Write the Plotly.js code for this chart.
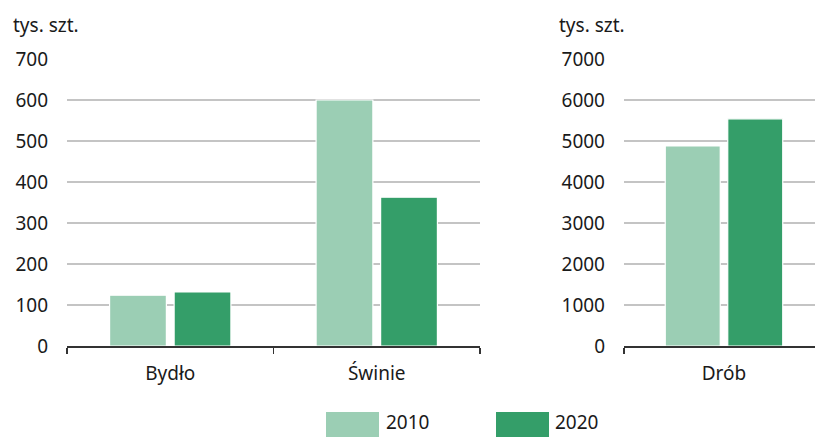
<!DOCTYPE html>
<html>
<head>
<meta charset="utf-8">
<script src="https://cdn.plot.ly/plotly-3.0.1.min.js"></script>
<style>html,body{margin:0;padding:0;background:#fff;}#chart{width:815px;height:437px;}</style>
</head>
<body>
<div id="chart"></div>
<script>
var categoriesLeft = ['Bydło', 'Świnie'];
var values2010Left = [124, 600];
var values2020Left = [132, 363];
var categoriesRight = ['Drób'];
var values2010Right = [4880];
var values2020Right = [5540];
var seriesNames = ['2010', '2020'];
var unitLabel = 'tys. szt.';
var leftTicks = [0, 100, 200, 300, 400, 500, 600, 700];
var rightTicks = [0, 1000, 2000, 3000, 4000, 5000, 6000, 7000];

var light = '#9BCEB4';
var dark = '#349E69';
var W = 815, H = 437;
function px(x) { return x / W; }
function py(y) { return (H - y) / H; }

var font = {family: 'Noto Sans, sans-serif', size: 19, color: '#1a1a1a'};
var barLine = {color: '#ffffff', width: 1.2};

var traces = [
  {type: 'bar', x: categoriesLeft, y: values2010Left, name: seriesNames[0], marker: {color: light, line: barLine}, xaxis: 'x', yaxis: 'y', hoverinfo: 'y'},
  {type: 'bar', x: categoriesLeft, y: values2020Left, name: seriesNames[1], marker: {color: dark, line: barLine}, xaxis: 'x', yaxis: 'y', hoverinfo: 'y'},
  {type: 'bar', x: categoriesRight, y: values2010Right, name: seriesNames[0], marker: {color: light, line: barLine}, xaxis: 'x2', yaxis: 'y2', hoverinfo: 'y'},
  {type: 'bar', x: categoriesRight, y: values2020Right, name: seriesNames[1], marker: {color: dark, line: barLine}, xaxis: 'x2', yaxis: 'y2', hoverinfo: 'y'}
];

var xCommon = {
  type: 'category', tickson: 'boundaries', ticks: 'outside', ticklen: 6, tickwidth: 1.5, tickcolor: '#333',
  showline: true, linecolor: '#333', linewidth: 1.5, showgrid: false, zeroline: false,
  tickfont: font, fixedrange: true, ticklabelstandoff: 10
};
var yCommon = {
  showgrid: true, gridcolor: '#c4c4c4', gridwidth: 1.3, zeroline: false, showline: false,
  ticks: '', tickfont: font, fixedrange: true, ticklabelstandoff: 18
};

var layout = {
  width: W, height: H,
  margin: {l: 0, r: 0, t: 0, b: 0},
  paper_bgcolor: '#fff', plot_bgcolor: '#fff',
  showlegend: false,
  barmode: 'group', bargap: 0.375, bargroupgap: 0.12,
  xaxis: Object.assign({}, xCommon, {domain: [px(67), px(480)], range: [-0.5, 1.5], anchor: 'y'}),
  yaxis: Object.assign({}, yCommon, {domain: [py(346), py(59)], range: [0, 700], tickvals: leftTicks, anchor: 'x'}),
  xaxis2: Object.assign({}, xCommon, {domain: [px(624), 1], range: [-0.5, 0.455], anchor: 'y2'}),
  yaxis2: Object.assign({}, yCommon, {domain: [py(346), py(59)], range: [0, 7000], tickvals: rightTicks, anchor: 'x2'}),
  annotations: [
    {text: unitLabel, xref: 'paper', yref: 'paper', x: px(11), y: py(25), xanchor: 'left', yanchor: 'middle', showarrow: false, font: font},
    {text: unitLabel, xref: 'paper', yref: 'paper', x: px(557), y: py(25), xanchor: 'left', yanchor: 'middle', showarrow: false, font: font},
    {text: seriesNames[0], xref: 'paper', yref: 'paper', x: px(384), y: 0, xanchor: 'left', yanchor: 'bottom', showarrow: false, font: font},
    {text: seriesNames[1], xref: 'paper', yref: 'paper', x: px(553), y: 0, xanchor: 'left', yanchor: 'bottom', showarrow: false, font: font}
  ],
  shapes: [
    {type: 'rect', xref: 'paper', yref: 'paper', x0: px(326), x1: px(379), y0: py(437), y1: py(412), fillcolor: light, line: {width: 0}},
    {type: 'rect', xref: 'paper', yref: 'paper', x0: px(496), x1: px(549), y0: py(437), y1: py(412), fillcolor: dark, line: {width: 0}}
  ]
};

Plotly.newPlot('chart', traces, layout, {displayModeBar: false, staticPlot: true});
</script>
</body>
</html>
